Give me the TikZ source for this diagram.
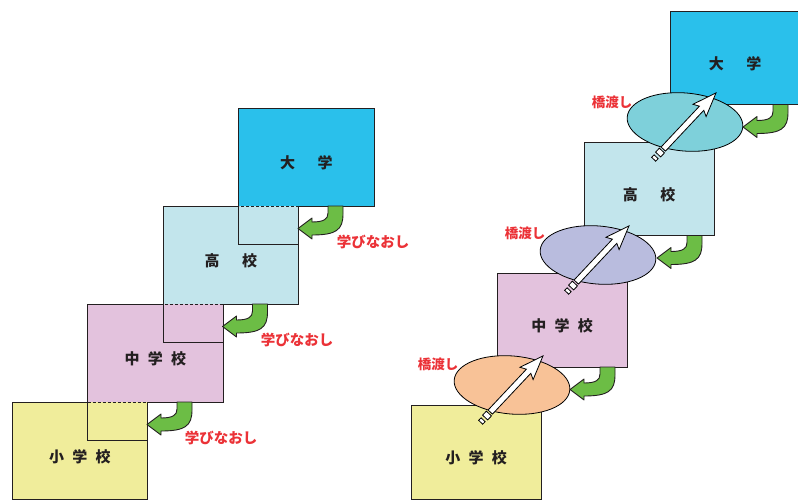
\documentclass[tikz,border=0pt]{standalone}
\usepackage{fontspec}
\newfontfamily\jp{Noto Sans CJK JP}
\usetikzlibrary{calc,shapes.geometric}
\definecolor{cyanbox}{RGB}{42,192,235}
\definecolor{bluebox}{RGB}{194,229,236}
\definecolor{pinkbox}{RGB}{227,194,221}
\definecolor{yellowbox}{RGB}{240,237,155}
\definecolor{ellA}{RGB}{126,208,218}
\definecolor{ellB}{RGB}{185,188,222}
\definecolor{ellC}{RGB}{248,194,151}
\definecolor{garrow}{RGB}{108,189,69}
\definecolor{redtxt}{RGB}{235,50,55}
\definecolor{ink}{RGB}{35,31,32}
\newcommand\lowtext[1]{\raisebox{-6pt}[\height][\depth]{#1}}
\newcommand\whitearrowdraw{%
    \filldraw[fill=white, draw=black, line width=0.8pt, line join=miter]
      (15,-3) -- (71,-3) -- (68,-9) -- (92,0) -- (68,9) -- (71,3) -- (15,3) -- cycle;
    \filldraw[fill=white, draw=black, line width=0.8pt] (7.5,-3.5) rectangle (13,3.5);
    \filldraw[fill=white, draw=black, line width=0.8pt] (1,-2.8) rectangle (4.5,2.8);
}
\tikzset{
  lbox/.style={rectangle, anchor=north west, inner sep=0pt, outer sep=0pt,
    minimum width=135.5pt, minimum height=98pt, font=\jp\bfseries\fontsize{15}{15}\selectfont, text=ink},
  rbox/.style={rectangle, anchor=north west, inner sep=0pt, outer sep=0pt, draw=ink, line width=0.9pt,
    minimum width=130pt, minimum height=93.5pt, font=\jp\bfseries\fontsize{15}{15}\selectfont, text=ink},
  edge/.style={draw=ink, line width=0.9pt},
  dashedge/.style={draw=ink, line width=0.9pt, dash pattern=on 3pt off 2pt},
  redlabel/.style={font=\jp\bfseries\fontsize{14.5}{14.5}\selectfont, text=redtxt, inner sep=0pt},
  hashi/.style={font=\jp\bfseries\fontsize{13.5}{13.5}\selectfont, text=redtxt, inner sep=0pt},
  bridge/.style={ellipse, draw=black, line width=0.8pt, minimum width=116pt, minimum height=58pt, inner sep=0pt, rotate=-5},
  greenarr/.pic={
    \filldraw[fill=garrow, draw=ink, line width=0.9pt, line join=round]
      (0,0) -- (15,0) -- (15,8) .. controls (15,24) and (8,29) .. (-16,29)
      -- (-16,33) -- (-30,22.5) -- (-16,12) -- (-16,16)
      .. controls (-4,16) and (0,13) .. (0,7) -- cycle;
  }
}
\begin{document}
\begin{tikzpicture}[x=1pt, y=-1pt]
\useasboundingbox (0,0) rectangle (798,500);
% ---------- left staircase ----------
\node[lbox, fill=yellowbox, minimum height=97pt] (L1) at (12,402) {\lowtext{小\hspace{0.55em}学\hspace{0.55em}校}};
\node[lbox, fill=pinkbox] (L2) at (87.5,304) {\lowtext{中\hspace{0.55em}学\hspace{0.55em}校}};
\node[lbox, fill=bluebox] (L3) at (163,206) {\lowtext{高\hspace{1.5em}校}};
\node[lbox, fill=cyanbox] (L4) at (238.5,108) {\lowtext{大\hspace{1.5em}学}};
% outlines
\draw[edge] ($(L4.south west)+(60,0)$) -- (L4.south east) -- (L4.north east) -- (L4.north west)
  -- ($(L4.south west)+(0,38)$) -- ++(60,0);
\draw[edge] ($(L3.south west)+(60,0)$) -- (L3.south east) -- (L3.north east);
\draw[dashedge] (L3.north east) -- ($(L3.north west)+(75.5,0)$);
\draw[edge] ($(L3.north west)+(75.5,0)$) -- (L3.north west) -- ($(L3.south west)+(0,38)$) -- ++(60,0);
\draw[edge] ($(L2.south west)+(60,0)$) -- (L2.south east) -- (L2.north east);
\draw[dashedge] (L2.north east) -- ($(L2.north west)+(75.5,0)$);
\draw[edge] ($(L2.north west)+(75.5,0)$) -- (L2.north west) -- ($(L2.south west)+(0,38)$) -- ++(60,0);
\draw[edge] (L1.north east) -- (L1.south east) -- (L1.south west) -- (L1.north west) -- ($(L1.north west)+(75.5,0)$);
\draw[dashedge] ($(L1.north west)+(75.5,0)$) -- (L1.north east);
% green arrows (left)
\pic at ($(L4.south west)+(89.5,0)$) {greenarr};
\pic at ($(L3.south west)+(89.5,0)$) {greenarr};
\pic at ($(L2.south west)+(89.5,0)$) {greenarr};
% labels
\node[redlabel] (m3) at (373,242) {学びなおし};
\node[redlabel] (m2) at (297,340) {学びなおし};
\node[redlabel] (m1) at (221,438) {学びなおし};
% ---------- right staircase ----------
\node[rbox, fill=yellowbox] (R1) at (411,405.5) {\lowtext{小\hspace{0.55em}学\hspace{0.55em}校}};
\node[rbox, fill=pinkbox] (R2) at (497,273.5) {\lowtext{中\hspace{0.55em}学\hspace{0.55em}校}};
\node[rbox, fill=bluebox] (R3) at (584,142) {\lowtext{高\hspace{1.5em}校}};
\node[rbox, fill=cyanbox] (R4) at (670,11) {\lowtext{大\hspace{1.5em}学}};
\pic at ($(R4.south west)+(103,0)$) {greenarr};
\pic at ($(R3.south west)+(103,0)$) {greenarr};
\pic at ($(R2.south west)+(103,0)$) {greenarr};
\node[hashi] (h3) at (612,102) {橋渡し};
\node[hashi] (h2) at (525,233) {橋渡し};
\node[hashi] (h1) at (438,364) {橋渡し};
\node[bridge, fill=ellA] (E3) at (685,122) {};
\node[bridge, fill=ellB] (E2) at (598,255) {};
\node[bridge, fill=ellC] (E1) at (512,385) {};
\begin{scope}[shift={(E3.center)}, shift={(-32,38)}, rotate=46.8]
  \whitearrowdraw
\end{scope}
\begin{scope}[shift={(E2.center)}, shift={(-32,38)}, rotate=46.8]
  \whitearrowdraw
\end{scope}
\begin{scope}[shift={(E1.center)}, shift={(-32,38)}, rotate=46.8]
  \whitearrowdraw
\end{scope}
\end{tikzpicture}
\end{document}
